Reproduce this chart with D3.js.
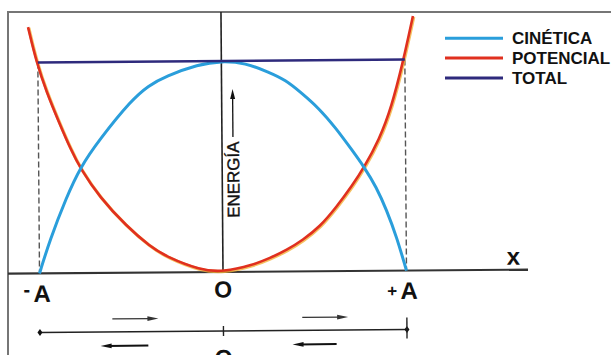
<!DOCTYPE html>
<html><head><meta charset="utf-8">
<script src="https://cdn.jsdelivr.net/npm/d3@7"></script>
<style>html,body{margin:0;padding:0;background:#fff;overflow:hidden}</style>
</head><body><svg id="c" width="611" height="355"></svg>
<script>
// ---- data (position in units of amplitude A, energy in units of total E) ----
const kinetic = [[-1.0,0],[-0.943,0.156],[-0.85,0.36],[-0.774,0.5],[-0.67,0.63],[-0.49,0.82],[-0.398,0.886],[-0.305,0.93],[-0.125,0.985],[0,1],[0.131,0.99],[0.256,0.946],[0.349,0.908],[0.436,0.845],[0.529,0.773],[0.621,0.678],[0.708,0.573],[0.774,0.492],[0.839,0.397],[0.894,0.288],[0.948,0.159],[1.0,0]];
const potential = [[-1.052,1.168],[-1.008,1.002],[-0.954,0.86],[-0.888,0.717],[-0.823,0.584],[-0.774,0.498],[-0.67,0.36],[-0.523,0.22],[-0.398,0.125],[-0.305,0.073],[-0.125,0.01],[0,0],[0.163,0.032],[0.256,0.064],[0.349,0.102],[0.436,0.149],[0.529,0.21],[0.621,0.304],[0.708,0.405],[0.774,0.492],[0.856,0.62],[0.926,0.776],[0.992,0.998],[1.019,1.102],[1.046,1.206]];
const total = [[-1,1],[1,1]];
const seriesNames = ["CINÉTICA","POTENCIAL","TOTAL"];
const seriesColors = ["#2a9edb","#e0301f","#2e2a7c"];
const tickValues = [-1,0,1];
const tickLabels = ["-A","O","+A"];
const moveRight = [[-0.605,-0.354],[0.43,0.68]];
const moveLeft = [[-0.41,-0.67],[0.616,0.376]];
const yLabel = "ENERGÍA";
const xLabel = "x";

const svg = d3.select("#c");
svg.append("rect").attr("width",611).attr("height",355).attr("fill","#fff");
// frame
svg.append("rect").attr("x",8).attr("y",12).attr("width",800).attr("height",500)
  .attr("fill","none").attr("stroke","#767676").attr("stroke-width",2);

const x = d3.scaleLinear().domain([-1,1]).range([39.5,406.5]);
const y = d3.scaleLinear().domain([0,1]).range([272,61]);
const line = d3.line().x(d=>x(d[0])).y(d=>y(d[1])).curve(d3.curveBasis);

const g = svg.append("g").attr("transform",`rotate(-0.45,${x(0)},${y(0)})`);
const F = "'Liberation Sans', Arial, sans-serif";

// dashed amplitude lines
[-1,1].forEach(v=>{
  g.append("line").attr("x1",x(v)).attr("x2",x(v)).attr("y1",y(1)).attr("y2",y(0))
   .attr("stroke","#555").attr("stroke-width",1.4).attr("stroke-dasharray","6,3");
});
// energy axis
g.append("line").attr("x1",x(0)).attr("x2",x(0)).attr("y1",12).attr("y2",y(0))
  .attr("stroke","#222").attr("stroke-width",1.6);
// x axis
g.append("line").attr("x1",8).attr("x2",528).attr("y1",y(0)).attr("y2",y(0))
  .attr("stroke","#333").attr("stroke-width",2.2);

// curves
g.append("path").attr("d",line(potential)).attr("fill","none").attr("stroke","#f3b23a")
  .attr("stroke-width",3.2).attr("transform","translate(0.8,0.9)").attr("opacity",0.8);
g.append("path").attr("d",line(potential)).attr("fill","none").attr("stroke",seriesColors[1]).attr("stroke-width",2.6);
g.append("path").attr("d",line(kinetic)).attr("fill","none").attr("stroke",seriesColors[0]).attr("stroke-width",3);
g.append("path").attr("d",line(total)).attr("fill","none").attr("stroke",seriesColors[2]).attr("stroke-width",2.6);

// energy label with arrow
g.append("text").attr("transform",`translate(${x(0)+17},218) rotate(-90)`)
  .attr("font-family",F).attr("font-size",17).attr("fill","#111")
  .attr("stroke","#111").attr("stroke-width",0.35).text(yLabel);
g.append("line").attr("x1",x(0)+11).attr("x2",x(0)+11).attr("y1",137).attr("y2",97)
  .attr("stroke","#111").attr("stroke-width",1.3);
g.append("path").attr("d",`M${x(0)+11},89L${x(0)+8.5},99L${x(0)+13.5},99Z`).attr("fill","#111");

// tick labels
tickLabels.forEach((lab,i)=>{
  const v = tickValues[i];
  const sign = (lab[0]==="+"||lab[0]==="-") ? lab[0] : "";
  const letter = sign ? lab.slice(1) : lab;
  const cx = x(v) + (sign ? 2.5 : 0);
  g.append("text").attr("x",cx).attr("y",sign?300.5:297.5).attr("text-anchor","middle")
    .attr("font-family",F).attr("font-weight","bold").attr("font-size",sign?24:23).attr("fill","#111").text(letter);
  if(sign){
    g.append("text").attr("x",cx-12).attr("y",sign==="-"?295:298).attr("text-anchor","end")
      .attr("font-family",F).attr("font-weight","bold").attr("font-size",sign==="-"?20:17).attr("fill","#111").text(sign);
  }
});
g.append("text").attr("x",513.5).attr("y",267).attr("text-anchor","middle")
  .attr("font-family",F).attr("font-weight","bold").attr("font-size",24).attr("fill","#111").text(xLabel);

// lower oscillation scale
const ly = 331;
g.append("line").attr("x1",x(-1)).attr("x2",x(1)).attr("y1",ly).attr("y2",ly).attr("stroke","#222").attr("stroke-width",1.6);
[-1,1].forEach(v=>{
  g.append("path").attr("d",`M${x(v)},${ly-3.5}L${x(v)+2.5},${ly}L${x(v)},${ly+3.5}L${x(v)-2.5},${ly}Z`).attr("fill","#111");
});
g.append("line").attr("x1",x(1)).attr("x2",x(1)).attr("y1",ly-12).attr("y2",ly+9).attr("stroke","#222").attr("stroke-width",1.4);
g.append("line").attr("x1",x(0)).attr("x2",x(0)).attr("y1",ly-5).attr("y2",ly+5).attr("stroke","#222").attr("stroke-width",1.4);
g.append("text").attr("x",x(0)).attr("y",366).attr("text-anchor","middle")
  .attr("font-family",F).attr("font-weight","bold").attr("font-size",23).attr("fill","#111").text(tickLabels[1]);

function arrow(a,b,yy,w,col){
  const x1=x(a), x2=x(b), dir=Math.sign(x2-x1), hl=11, hw=4.6;
  g.append("line").attr("x1",x1).attr("x2",x2-dir*hl*0.6).attr("y1",yy).attr("y2",yy).attr("stroke",col).attr("stroke-width",w);
  g.append("path").attr("d",`M${x2},${yy}L${x2-dir*hl},${yy-hw/2}L${x2-dir*hl},${yy+hw/2}Z`).attr("fill",col);
}
moveRight.forEach(d=>arrow(d[0],d[1],318,1.3,"#333"));
moveLeft.forEach(d=>arrow(d[0],d[1],345,2,"#111"));

// legend
const lg = svg.append("g");
seriesNames.forEach((n,i)=>{
  const yy = 38.3 + i*19.8;
  lg.append("line").attr("x1",445).attr("x2",503).attr("y1",yy).attr("y2",yy).attr("stroke",seriesColors[i]).attr("stroke-width",3);
  lg.append("text").attr("x",512).attr("y",yy+6).attr("font-family",F).attr("font-weight","bold")
    .attr("font-size",17).attr("fill","#111").text(n);
});
</script></body></html>
